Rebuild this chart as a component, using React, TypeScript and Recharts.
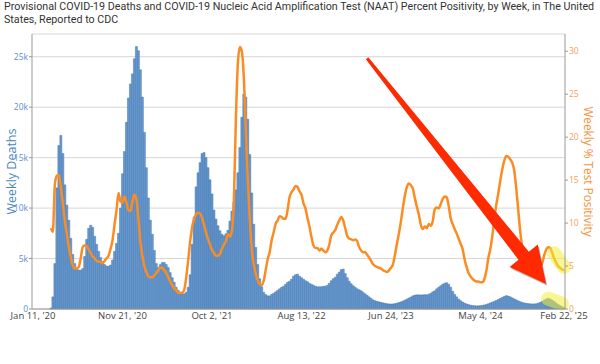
import React from 'react';
import { ComposedChart, Bar, Line, XAxis, YAxis, CartesianGrid, ReferenceLine } from 'recharts';

const MONTHS = ['Jan', 'Feb', 'Mar', 'Apr', 'May', 'Jun', 'Jul', 'Aug', 'Sep', 'Oct', 'Nov', 'Dec'];
const FIRST_WEEK = Date.UTC(2020, 0, 11);

const TICK_LABELS = ["Jan 11, '20", "Nov 21, '20", "Oct 2, '21", "Aug 13, '22", "Jun 24, '23", "May 4, '24", "Feb 22, '25"];

// weekly deaths, one value per week starting Jan 11, 2020
const DEATHS = [
  0, 0, 0, 0, 0, 0, 0, 0, 0, 100,
  1200, 4500, 12000, 16200, 17200, 15400, 12300, 10300, 8800, 7000,
  5400, 4500, 4000, 3850, 3850, 4000, 5200, 6900, 8000, 8300,
  8100, 7200, 6400, 5700, 5100, 4700, 4400, 4250, 4250, 4350,
  4850, 5700, 6500, 7500, 10000, 13400, 15600, 18500, 20900, 22300,
  23300, 24800, 26000, 25600, 23700, 21000, 17500, 14000, 11000, 8800,
  7400, 5800, 4500, 4100, 4400, 4600, 4600, 4400, 4100, 3600,
  3100, 2650, 2150, 1850, 1650, 1500, 1500, 1650, 2150, 3400,
  6400, 9100, 12100, 13500, 14500, 15400, 15500, 15000, 14000, 12800,
  11400, 9800, 8900, 8250, 7750, 7400, 7250, 7450, 7800, 8700,
  9700, 10600, 11800, 13500, 16000, 19000, 21300, 21000, 18800, 15300,
  11500, 8400, 6100, 4400, 3000, 2200, 1650, 1420, 1300, 1300,
  1450, 1550, 1700, 1850, 2000, 2150, 2250, 2450, 2650, 2750,
  2950, 3250, 3400, 3450, 3250, 3100, 2950, 2800, 2700, 2550,
  2450, 2350, 2250, 2200, 2200, 2200, 2250, 2250, 2350, 2550,
  2800, 3000, 3150, 3450, 3650, 3900, 3950, 3500, 3100, 2750,
  2500, 2300, 2150, 2000, 1900, 1800, 1650, 1500, 1350, 1200,
  1050, 900, 820, 750, 700, 650, 600, 560, 520, 500,
  490, 500, 530, 580, 640, 700, 780, 880, 980, 1080,
  1180, 1300, 1370, 1400, 1400, 1390, 1400, 1420, 1400, 1450,
  1550, 1700, 1800, 2000, 2150, 2300, 2450, 2550, 2600, 2450,
  2150, 1750, 1450, 1200, 980, 820, 690, 580, 500, 430,
  380, 340, 320, 310, 310, 330, 360, 400, 450, 520,
  600, 680, 760, 850, 950, 1050, 1150, 1250, 1320, 1280,
  1200, 1100, 1000, 900, 800, 720, 650, 600, 560, 530,
  510, 500, 500, 520, 570, 650, 750, 880, 980, 1050,
  1000, 880, 750, 600, 450, 330, 230, 150,
];

// weekly NAAT % positivity
const POSITIVITY = [
  null, null, null, null, null, null, null, null, null, 9.4,
  9.0, 14.5, 15.5, 15.6, 14.2, 12.3, 10.3, 8.8, 7.3, 6.0,
  5.1, 4.7, 4.7, 4.9, 5.9, 7.2, 7.4, 7.3, 6.9, 6.5,
  6.1, 5.9, 5.6, 5.5, 5.5, 5.3, 5.6, 5.9, 6.2, 7.0,
  8.0, 9.8, 11.5, 13.5, 12.5, 12.4, 13.1, 12.4, 11.5, 11.4,
  12.5, 13.3, 12.8, 10.5, 7.8, 6.2, 5.0, 4.3, 3.8, 3.7,
  3.7, 3.9, 4.2, 4.5, 4.8, 4.8, 4.5, 4.2, 3.7, 3.2,
  2.8, 2.4, 2.2, 1.9, 1.85, 1.9, 2.2, 3.6, 5.6, 7.8,
  9.5, 10.5, 11.0, 11.2, 11.1, 10.6, 9.8, 8.9, 8.1, 7.5,
  6.9, 6.5, 6.2, 6.2, 6.4, 7.0, 7.5, 7.9, 8.7, 8.4,
  9.1, 12.5, 22.0, 28.5, 30.5, 30.0, 27.0, 21.0, 15.0, 10.5,
  7.0, 5.2, 4.1, 3.3, 2.9, 2.8, 3.3, 4.5, 5.8, 6.6,
  8.0, 8.9, 9.9, 10.3, 10.8, 10.7, 10.5, 10.5, 11.5, 13.0,
  13.6, 13.9, 14.3, 14.2, 13.7, 13.3, 12.3, 11.7, 10.6, 9.6,
  8.4, 7.4, 7.1, 7.1, 6.8, 7.0, 6.8, 6.6, 6.8, 7.5,
  8.6, 8.9, 9.2, 9.8, 10.3, 10.7, 10.3, 9.4, 8.5, 8.2,
  8.1, 8.0, 8.1, 7.9, 7.2, 6.8, 6.6, 6.6, 6.3, 6.0,
  5.6, 5.2, 5.0, 4.9, 4.8, 4.7, 4.5, 4.4, 4.3, 4.5,
  4.8, 5.2, 6.3, 7.6, 8.8, 10.2, 11.8, 13.2, 14.2, 14.6,
  14.4, 14.0, 12.9, 11.9, 11.0, 9.8, 9.3, 9.6, 9.4, 9.9,
  9.7, 10.2, 11.6, 11.8, 11.7, 12.2, 12.8, 13.1, 13.0, 12.0,
  10.6, 9.9, 9.3, 8.8, 8.2, 7.6, 7.0, 5.8, 4.9, 4.2,
  3.8, 3.5, 3.3, 3.2, 3.2, 3.1, 3.1, 3.5, 4.5, 6.0,
  7.0, 8.6, 10.5, 12.2, 13.5, 15.0, 16.3, 17.3, 17.8, 17.7,
  17.4, 17.0, 16.1, 14.0, 11.5, 9.0, 7.2, 5.5, 4.9, 4.6,
  4.4, 4.3, 4.3, 4.4, 4.6, 4.9, 5.3, 6.2, 6.9, 7.2,
  7.1, 6.6, 5.9, 5.4, 5.0, 4.8, 4.6, 4.5,
];

const WEEKS = DEATHS.map((_, i) => {
  const d = new Date(FIRST_WEEK + i * 7 * 86400000);
  return `${MONTHS[d.getUTCMonth()]} ${d.getUTCDate()}, '${String(d.getUTCFullYear()).slice(2)}`;
});

// annotations, in data units (week index, axis value)
const ARROW_FROM = { week: 168, value: 24850 };
const ARROW_TO = { week: 258, value: 2475 };
const MARK_POSITIVITY = [{ week: 262, value: 6.5 }, { week: 267, value: 4.9 }];
const MARK_DEATHS = [{ week: 259, value: 1020 }, { week: 266, value: 525 }];

const data = WEEKS.map((week, i) => ({ week, deaths: DEATHS[i], positivity: POSITIVITY[i] }));

const fmtDeaths = (v: number) => (v === 0 ? '0' : `${v / 1000}k`);

function ArrowShape(props: any) {
  const { x1, y1, x2, y2 } = props;
  const dx = x2 - x1;
  const dy = y2 - y1;
  const len = Math.hypot(dx, dy);
  const ux = dx / len;
  const uy = dy / len;
  const nx = -uy;
  const ny = ux;
  const head = 36;
  const headW = 18;
  const neckW = 6.5;
  const tailW = 1.5;
  const bx = x2 - ux * head;
  const by = y2 - uy * head;
  const pts = [
    [x1 + nx * tailW, y1 + ny * tailW],
    [bx + nx * neckW, by + ny * neckW],
    [bx + nx * headW, by + ny * headW],
    [x2, y2],
    [bx - nx * headW, by - ny * headW],
    [bx - nx * neckW, by - ny * neckW],
    [x1 - nx * tailW, y1 - ny * tailW],
  ];
  const d = pts.map((p) => `${p[0].toFixed(1)},${p[1].toFixed(1)}`).join(' ');
  return (
    <g>
      <polygon points={d} fill="rgba(0,0,0,0.25)" transform="translate(1.2,1.8)" />
      <polygon points={d} fill="#ff2a00" />
    </g>
  );
}

export default function App() {
  return (
    <div style={{ position: 'absolute', left: 0, top: 0, width: 600, height: 364, fontFamily: '"Open Sans", sans-serif', background: '#fff' }}>
      <div style={{ position: 'absolute', left: 4, top: 0, fontFamily: 'Roboto, sans-serif', fontSize: 10.7, lineHeight: '13px', color: '#333', whiteSpace: 'nowrap' }}>
        Provisional COVID-19 Deaths and COVID-19 Nucleic Acid Amplification Test (NAAT) Percent Positivity, by Week, in The United
        <br />
        States, Reported to CDC
      </div>
      <ComposedChart
        width={600}
        height={364}
        data={data}
        margin={{ top: 34, right: 0, bottom: 0, left: 0 }}
        barCategoryGap={0}
        barGap={0}
      >
        <CartesianGrid yAxisId="left" vertical={false} stroke="#d6d6d6" />
        <XAxis
          dataKey="week"
          ticks={TICK_LABELS}
          interval={0}
          height={55}
          tickLine={false}
          tickSize={0}
          tickMargin={3}
          stroke="#999"
          tick={{ fill: '#444', fontSize: 9.5 }}
        />
        <YAxis
          yAxisId="left"
          width={32}
          domain={[0, 27250]}
          ticks={[0, 5000, 10000, 15000, 20000, 25000]}
          tickFormatter={fmtDeaths}
          tickSize={3}
          tickMargin={1}
          stroke="#999"
          tick={{ fill: '#5b8ed6', fontSize: 8.5 }}
          label={{ value: 'Weekly Deaths', angle: -90, position: 'insideLeft', offset: 11.5, fill: '#4a86c8', fontSize: 12.5, style: { textAnchor: 'middle' } }}
        />
        <YAxis
          yAxisId="right"
          orientation="right"
          width={35}
          domain={[0, 32]}
          ticks={[0, 5, 10, 15, 20, 25, 30]}
          tickSize={3}
          tickMargin={1}
          stroke="#999"
          tick={{ fill: '#f6a05a', fontSize: 8.5 }}
          label={{ value: 'Weekly % Test Positivity', angle: 90, position: 'insideRight', offset: 12, fill: '#f7923a', fontSize: 11.8, style: { textAnchor: 'middle' } }}
        />
        <Bar yAxisId="left" dataKey="deaths" fill="#6a99cd" stroke="#3f76b3" strokeWidth={0.5} isAnimationActive={false} />
        <Line
          yAxisId="right"
          dataKey="positivity"
          type="monotone"
          stroke="#fb8c23"
          strokeWidth={2.5}
          dot={false}
          isAnimationActive={false}
        />
        <ReferenceLine
          yAxisId="right"
          segment={MARK_POSITIVITY.map((p) => ({ x: WEEKS[p.week], y: p.value }))}
          stroke="#f2ee3a"
          strokeOpacity={0.55}
          strokeWidth={14}
          strokeLinecap="round"
        />
        <ReferenceLine
          yAxisId="left"
          segment={MARK_DEATHS.map((p) => ({ x: WEEKS[p.week], y: p.value }))}
          stroke="#f2ee3a"
          strokeOpacity={0.55}
          strokeWidth={14}
          strokeLinecap="round"
        />
        <ReferenceLine
          yAxisId="left"
          segment={[
            { x: WEEKS[ARROW_FROM.week], y: ARROW_FROM.value },
            { x: WEEKS[ARROW_TO.week], y: ARROW_TO.value },
          ]}
          shape={ArrowShape}
        />
      </ComposedChart>
    </div>
  );
}
